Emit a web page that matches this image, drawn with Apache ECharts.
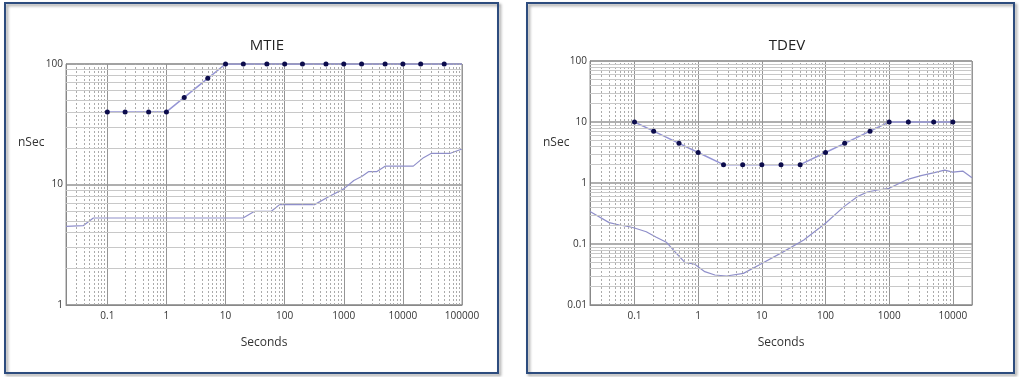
<!DOCTYPE html>
<html lang="en">
<head>
    <meta charset="UTF-8">
    <title>MTIE / TDEV</title>
    <script type="text/javascript" src="https://cdn.jsdelivr.net/npm/echarts@6/dist/echarts.min.js"></script>
    <style>
        body{
            padding: 0px;
            margin: 0px;
            background-color: #ffffff;
        }
        #main{
            width: 1019px;
            height: 377px;
        }
    </style>
</head>
<body>
<div id="main"></div>
<script>
// MTIE mask (dots) and measured curve
var mtieMaskX = [0.1, 0.2, 0.5, 1, 2, 5, 10, 20, 50, 100, 200, 500, 1000, 2000, 5000, 10000, 20000, 50000, 100000];
var mtieMaskY = [40, 40, 40, 40, 52.8, 76.1, 100, 100, 100, 100, 100, 100, 100, 100, 100, 100, 100, 100, 100];
var mtieMeasX = [0.02, 0.039, 0.058, 19.8, 31, 59.6, 82, 320, 574, 1000, 1480, 2040, 2650, 3640, 5000, 15000, 22300, 30000, 62000, 100000];
var mtieMeasY = [4.49, 4.55, 5.27, 5.27, 5.99, 5.99, 6.81, 6.81, 8.0, 9.2, 10.8, 11.7, 12.8, 12.8, 14.2, 14.2, 16.7, 18.1, 18.1, 19.7];

// TDEV mask (dots) and measured curve
var tdevMaskX = [0.1, 0.2, 0.5, 1, 2.5, 5, 10, 20, 40, 100, 200, 500, 1000, 2000, 5000, 10000];
var tdevMaskY = [10, 7.07, 4.47, 3.16, 2, 2, 2, 2, 2, 3.16, 4.47, 7.07, 10, 10, 10, 10];
var tdevMeasX = [0.02, 0.04, 0.058, 0.083, 0.1, 0.153, 0.22, 0.316, 0.455, 0.617, 0.886, 1.27, 1.83, 2.8, 5.14, 10, 22, 45.6, 100, 195, 316, 455, 658, 1000, 1960, 3160, 5140, 7430, 10000, 14300, 20000];
var tdevMeasY = [0.34, 0.224, 0.205, 0.192, 0.183, 0.159, 0.129, 0.107, 0.0703, 0.050, 0.0465, 0.0352, 0.031, 0.0299, 0.033, 0.048, 0.075, 0.116, 0.219, 0.41, 0.597, 0.711, 0.768, 0.818, 1.15, 1.32, 1.48, 1.63, 1.51, 1.57, 1.22];

var chart = echarts.init(document.getElementById('main'), null, {renderer: 'canvas'});

function pairs(xs, ys) {
    var out = [];
    for (var i = 0; i < xs.length; i++) out.push([xs[i], ys[i]]);
    return out;
}

// minor grid lines at 2..9 of each decade
function minorValues(lo, hi) {
    var out = [];
    for (var e = -3; e <= 6; e++) {
        for (var m = 2; m <= 9; m++) {
            var v = Number((m * Math.pow(10, e)).toPrecision(6));
            if (v > lo && v < hi) out.push(v);
        }
    }
    return out;
}

function minorLines(xlo, xhi, ylo, yhi) {
    var d = [];
    minorValues(xlo, xhi).forEach(function (v) {
        d.push({xAxis: v, lineStyle: {color: '#ababab', type: [2, 2], width: 1}});
    });
    minorValues(ylo, yhi).forEach(function (v) {
        d.push({yAxis: v, lineStyle: {color: '#c8c8c8', type: 'solid', width: 1}});
    });
    return d;
}

var fontFam = '"Open Sans", "DejaVu Sans", sans-serif';
var fmt = function (v) { return String(Number(v.toPrecision(6))); };

function xAxisOf(idx, min, max) {
    return {
        type: 'log', logBase: 10, gridIndex: idx, min: min, max: max,
        name: 'Seconds', nameLocation: 'middle', nameGap: 32,
        nameTextStyle: {fontFamily: fontFam, fontSize: 12, color: '#333'},
        axisLine: {lineStyle: {color: '#888'}},
        axisTick: {show: false},
        axisLabel: {fontFamily: fontFam, fontSize: 10, color: '#333', margin: 6,
            showMinLabel: false, showMaxLabel: idx === 0, formatter: fmt},
        splitLine: {show: true, lineStyle: {color: '#959595', width: 1}}
    };
}

function yAxisOf(idx, min, max) {
    return {
        type: 'log', logBase: 10, gridIndex: idx, min: min, max: max,
        axisLine: {lineStyle: {color: '#888'}},
        axisTick: {show: false},
        axisLabel: {fontFamily: fontFam, fontSize: 10, color: '#333', margin: 3, formatter: fmt},
        splitLine: {show: true, lineStyle: {color: '#959595', width: 1.5}}
    };
}

var maskLine = {color: '#9595d5', width: 1.5};
var dotStyle = {color: '#0c0c4c', borderWidth: 0, opacity: 1};
var measLine = {color: '#8f8fca', width: 1.2};

var mtieMaskData = pairs(mtieMaskX, mtieMaskY);
// the mask line runs on to the right edge, the last point has no dot
var mtieDots = mtieMaskData.slice(0, mtieMaskData.length - 1);

var option = {
    animation: false,
    backgroundColor: '#ffffff',
    title: [
        {text: 'MTIE', left: 262, top: 33, textAlign: 'center',
            textStyle: {fontFamily: fontFam, fontSize: 15, fontWeight: 'normal', color: '#222'}},
        {text: 'TDEV', left: 782, top: 33, textAlign: 'center',
            textStyle: {fontFamily: fontFam, fontSize: 15, fontWeight: 'normal', color: '#222'}}
    ],
    graphic: [
        {type: 'rect', shape: {x: 5, y: 3, width: 493, height: 370},
            style: {fill: 'none', stroke: '#2d4c7e', lineWidth: 2,
                shadowBlur: 3, shadowOffsetX: 2, shadowOffsetY: 2, shadowColor: 'rgba(0,0,0,0.4)'}},
        {type: 'rect', shape: {x: 527, y: 3, width: 487, height: 370},
            style: {fill: 'none', stroke: '#2d4c7e', lineWidth: 2,
                shadowBlur: 3, shadowOffsetX: 2, shadowOffsetY: 2, shadowColor: 'rgba(0,0,0,0.4)'}},
        {type: 'text', x: 18, y: 137,
            style: {text: 'nSec', fontFamily: fontFam, fontSize: 12, fill: '#333'}},
        {type: 'text', x: 543, y: 137,
            style: {text: 'nSec', fontFamily: fontFam, fontSize: 12, fill: '#333'}}
    ],
    grid: [
        {left: 66, top: 64, width: 396, height: 241, show: true, borderColor: '#959595', borderWidth: 1},
        {left: 590, top: 61, width: 382, height: 244, show: true, borderColor: '#959595', borderWidth: 1}
    ],
    xAxis: [xAxisOf(0, 0.02, 100000), xAxisOf(1, 0.02, 20000)],
    yAxis: [yAxisOf(0, 1, 100), yAxisOf(1, 0.01, 100)],
    series: [
        {type: 'line', xAxisIndex: 0, yAxisIndex: 0, data: [], z: 1, silent: true,
            markLine: {silent: true, symbol: ['none', 'none'], label: {show: false},
                animation: false, data: minorLines(0.02, 100000, 1, 100)}},
        {type: 'line', xAxisIndex: 1, yAxisIndex: 1, data: [], z: 1, silent: true,
            markLine: {silent: true, symbol: ['none', 'none'], label: {show: false},
                animation: false, data: minorLines(0.02, 20000, 0.01, 100)}},
        {name: 'MTIE measured', type: 'line', xAxisIndex: 0, yAxisIndex: 0, z: 3,
            data: pairs(mtieMeasX, mtieMeasY), showSymbol: false, lineStyle: measLine},
        {name: 'MTIE mask', type: 'line', xAxisIndex: 0, yAxisIndex: 0, z: 4,
            data: mtieMaskData, showSymbol: false, lineStyle: maskLine},
        {name: 'MTIE mask points', type: 'scatter', xAxisIndex: 0, yAxisIndex: 0, z: 5,
            data: mtieDots, symbol: 'circle', symbolSize: 5, itemStyle: dotStyle},
        {name: 'TDEV measured', type: 'line', xAxisIndex: 1, yAxisIndex: 1, z: 3,
            data: pairs(tdevMeasX, tdevMeasY), showSymbol: false, lineStyle: measLine},
        {name: 'TDEV mask', type: 'line', xAxisIndex: 1, yAxisIndex: 1, z: 4,
            data: pairs(tdevMaskX, tdevMaskY), showSymbol: false, lineStyle: maskLine},
        {name: 'TDEV mask points', type: 'scatter', xAxisIndex: 1, yAxisIndex: 1, z: 5,
            data: pairs(tdevMaskX, tdevMaskY), symbol: 'circle', symbolSize: 5, itemStyle: dotStyle}
    ]
};
chart.setOption(option);
</script>
</body>
</html>
